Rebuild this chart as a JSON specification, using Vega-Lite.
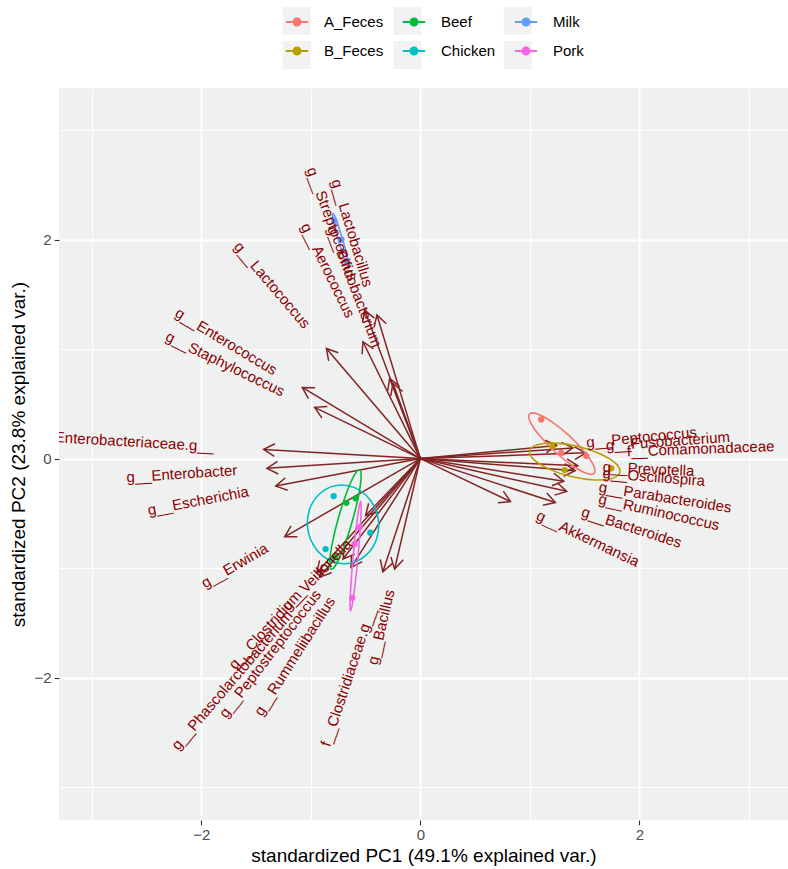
{
  "$schema": "https://vega.github.io/schema/vega-lite/v6.json",
  "width": 729,
  "height": 732,
  "autosize": {"type": "none"},
  "padding": {"left": 59, "top": 88, "right": 0, "bottom": 49},
  "background": "white",
  "config": {
    "view": {"fill": "#EFF0F0", "stroke": null},
    "font": "Liberation Sans",
    "axis": {
      "domain": false,
      "gridColor": "white",
      "tickColor": "#333333",
      "tickSize": 4.8,
      "tickWidth": 1.1,
      "labelColor": "#4D4D4D",
      "labelFontSize": 15,
      "labelFont": "Liberation Sans",
      "labelPadding": 3,
      "labelOverlap": false,
      "labelFlush": false,
      "titleFontSize": 19,
      "titleFontWeight": "normal",
      "titleColor": "black",
      "titleFont": "Liberation Sans",
      "titlePadding": 4
    },
    "axisY": {"titlePadding": 6}
  },
  "datasets": {
    "arrows": [
      {"label": "g__Streptococcus", "x0": 0, "y0": 0, "x": -0.509, "y": 1.356, "lx": -0.612, "ly": 1.629},
      {"label": "g__Lactobacillus", "x0": 0, "y0": 0, "x": -0.396, "y": 1.311, "lx": -0.475, "ly": 1.572},
      {"label": "g__Aerococcus", "x0": 0, "y0": 0, "x": -0.524, "y": 1.067, "lx": -0.636, "ly": 1.295},
      {"label": "g__Bifidobacterium", "x0": 0, "y0": 0, "x": -0.280, "y": 0.732, "lx": -0.391, "ly": 1.023},
      {"label": "", "x0": 0, "y0": 0, "x": -0.250, "y": 0.687, "lx": -0.250, "ly": 0.687},
      {"label": "g__Lactococcus", "x0": 0, "y0": 0, "x": -0.858, "y": 1.006, "lx": -1.031, "ly": 1.208},
      {"label": "g__Enterococcus", "x0": 0, "y0": 0, "x": -1.078, "y": 0.650, "lx": -1.320, "ly": 0.796},
      {"label": "g__Staphylococcus", "x0": 0, "y0": 0, "x": -0.965, "y": 0.468, "lx": -1.248, "ly": 0.606},
      {"label": "f__Enterobacteriaceae.g__", "x0": 0, "y0": 0, "x": -1.431, "y": 0.084, "lx": -1.885, "ly": 0.111},
      {"label": "g__Enterobacter", "x0": 0, "y0": 0, "x": -1.401, "y": -0.089, "lx": -1.673, "ly": -0.106},
      {"label": "g__Escherichia", "x0": 0, "y0": 0, "x": -1.321, "y": -0.251, "lx": -1.569, "ly": -0.298},
      {"label": "g__Erwinia", "x0": 0, "y0": 0, "x": -1.239, "y": -0.714, "lx": -1.402, "ly": -0.808},
      {"label": "g__Veillonella", "x0": 0, "y0": 0, "x": -0.500, "y": -0.520, "lx": -0.652, "ly": -0.758},
      {"label": "g__Clostridium", "x0": 0, "y0": 0, "x": -0.945, "y": -1.042, "lx": -1.111, "ly": -1.225},
      {"label": "g__Phascolarctobacterium", "x0": 0, "y0": 0, "x": -0.920, "y": -1.082, "lx": -1.195, "ly": -1.405},
      {"label": "g__Peptostreptococcus", "x0": 0, "y0": 0, "x": -0.706, "y": -0.917, "lx": -0.935, "ly": -1.215},
      {"label": "g__Rummeliibacillus", "x0": 0, "y0": 0, "x": -0.633, "y": -0.995, "lx": -0.811, "ly": -1.275},
      {"label": "f__Clostridiaceae.g__", "x0": 0, "y0": 0, "x": -0.342, "y": -1.034, "lx": -0.452, "ly": -1.366},
      {"label": "g__Bacillus", "x0": 0, "y0": 0, "x": -0.235, "y": -1.009, "lx": -0.279, "ly": -1.197},
      {"label": "g__Peptococcus", "x0": 0, "y0": 0, "x": 1.245, "y": 0.120, "lx": 1.516, "ly": 0.146},
      {"label": "g__Fusobacterium", "x0": 0, "y0": 0, "x": 1.394, "y": 0.0975, "lx": 1.695, "ly": 0.119},
      {"label": "f__Comamonadaceae", "x0": 0, "y0": 0, "x": 1.510, "y": 0.053, "lx": 1.887, "ly": 0.066},
      {"label": "g__Prevotella", "x0": 0, "y0": 0, "x": 1.438, "y": -0.0653, "lx": 1.666, "ly": -0.076},
      {"label": "g__Oscillospira", "x0": 0, "y0": 0, "x": 1.414, "y": -0.111, "lx": 1.665, "ly": -0.131},
      {"label": "g__Parabacteroides", "x0": 0, "y0": 0, "x": 1.310, "y": -0.207, "lx": 1.631, "ly": -0.258},
      {"label": "g__Ruminococcus", "x0": 0, "y0": 0, "x": 1.337, "y": -0.299, "lx": 1.630, "ly": -0.365},
      {"label": "g__Bacteroides", "x0": 0, "y0": 0, "x": 1.233, "y": -0.401, "lx": 1.477, "ly": -0.480},
      {"label": "g__Akkermansia", "x0": 0, "y0": 0, "x": 0.824, "y": -0.393, "lx": 1.070, "ly": -0.511}
    ],
    "samples": [
      {"group": "A_Feces", "x": 1.104, "y": 0.357},
      {"group": "A_Feces", "x": 1.287, "y": 0.053},
      {"group": "A_Feces", "x": 1.516, "y": 0.023},
      {"group": "B_Feces", "x": 1.205, "y": 0.108},
      {"group": "B_Feces", "x": 1.318, "y": -0.105},
      {"group": "B_Feces", "x": 1.744, "y": -0.089},
      {"group": "Beef", "x": -0.676, "y": -0.404},
      {"group": "Beef", "x": -0.591, "y": -0.363},
      {"group": "Beef", "x": -0.78, "y": -0.90},
      {"group": "Chicken", "x": -0.792, "y": -0.342},
      {"group": "Chicken", "x": -0.457, "y": -0.676},
      {"group": "Chicken", "x": -0.865, "y": -0.826},
      {"group": "Milk", "x": -0.785, "y": 2.17},
      {"group": "Milk", "x": -0.675, "y": 1.80},
      {"group": "Milk", "x": -0.72, "y": 2.0},
      {"group": "Pork", "x": -0.554, "y": -0.626},
      {"group": "Pork", "x": -0.60, "y": -0.78},
      {"group": "Pork", "x": -0.621, "y": -1.271}
    ],
    "ellipses": [
      {"group": "A_Feces", "i": 0, "x": 1.589, "y": -0.134},
      {"group": "A_Feces", "i": 1, "x": 1.582, "y": -0.062},
      {"group": "A_Feces", "i": 2, "x": 1.498, "y": 0.063},
      {"group": "A_Feces", "i": 3, "x": 1.359, "y": 0.209},
      {"group": "A_Feces", "i": 4, "x": 1.202, "y": 0.335},
      {"group": "A_Feces", "i": 5, "x": 1.070, "y": 0.408},
      {"group": "A_Feces", "i": 6, "x": 0.998, "y": 0.408},
      {"group": "A_Feces", "i": 7, "x": 1.004, "y": 0.336},
      {"group": "A_Feces", "i": 8, "x": 1.088, "y": 0.211},
      {"group": "A_Feces", "i": 9, "x": 1.227, "y": 0.065},
      {"group": "A_Feces", "i": 10, "x": 1.384, "y": -0.061},
      {"group": "A_Feces", "i": 11, "x": 1.516, "y": -0.134},
      {"group": "B_Feces", "i": 0, "x": 1.822, "y": -0.126},
      {"group": "B_Feces", "i": 1, "x": 1.784, "y": -0.044},
      {"group": "B_Feces", "i": 2, "x": 1.644, "y": 0.042},
      {"group": "B_Feces", "i": 3, "x": 1.443, "y": 0.110},
      {"group": "B_Feces", "i": 4, "x": 1.232, "y": 0.141},
      {"group": "B_Feces", "i": 5, "x": 1.070, "y": 0.127},
      {"group": "B_Feces", "i": 6, "x": 0.998, "y": 0.072},
      {"group": "B_Feces", "i": 7, "x": 1.037, "y": -0.010},
      {"group": "B_Feces", "i": 8, "x": 1.176, "y": -0.096},
      {"group": "B_Feces", "i": 9, "x": 1.377, "y": -0.164},
      {"group": "B_Feces", "i": 10, "x": 1.588, "y": -0.195},
      {"group": "B_Feces", "i": 11, "x": 1.750, "y": -0.181},
      {"group": "Chicken", "i": 0, "x": -0.768, "y": -0.245},
      {"group": "Chicken", "i": 1, "x": -0.919, "y": -0.321},
      {"group": "Chicken", "i": 2, "x": -1.014, "y": -0.471},
      {"group": "Chicken", "i": 3, "x": -1.026, "y": -0.656},
      {"group": "Chicken", "i": 4, "x": -0.952, "y": -0.825},
      {"group": "Chicken", "i": 5, "x": -0.813, "y": -0.935},
      {"group": "Chicken", "i": 6, "x": -0.644, "y": -0.955},
      {"group": "Chicken", "i": 7, "x": -0.493, "y": -0.879},
      {"group": "Chicken", "i": 8, "x": -0.398, "y": -0.729},
      {"group": "Chicken", "i": 9, "x": -0.386, "y": -0.544},
      {"group": "Chicken", "i": 10, "x": -0.460, "y": -0.375},
      {"group": "Chicken", "i": 11, "x": -0.599, "y": -0.265},
      {"group": "Beef", "i": 0, "x": -0.555, "y": -0.102},
      {"group": "Beef", "i": 1, "x": -0.604, "y": -0.154},
      {"group": "Beef", "i": 2, "x": -0.674, "y": -0.314},
      {"group": "Beef", "i": 3, "x": -0.747, "y": -0.538},
      {"group": "Beef", "i": 4, "x": -0.803, "y": -0.768},
      {"group": "Beef", "i": 5, "x": -0.827, "y": -0.940},
      {"group": "Beef", "i": 6, "x": -0.813, "y": -1.010},
      {"group": "Beef", "i": 7, "x": -0.764, "y": -0.958},
      {"group": "Beef", "i": 8, "x": -0.694, "y": -0.798},
      {"group": "Beef", "i": 9, "x": -0.622, "y": -0.574},
      {"group": "Beef", "i": 10, "x": -0.565, "y": -0.344},
      {"group": "Beef", "i": 11, "x": -0.541, "y": -0.172},
      {"group": "Pork", "i": 0, "x": -0.545, "y": -0.391},
      {"group": "Pork", "i": 1, "x": -0.562, "y": -0.457},
      {"group": "Pork", "i": 2, "x": -0.587, "y": -0.639},
      {"group": "Pork", "i": 3, "x": -0.613, "y": -0.889},
      {"group": "Pork", "i": 4, "x": -0.633, "y": -1.139},
      {"group": "Pork", "i": 5, "x": -0.642, "y": -1.323},
      {"group": "Pork", "i": 6, "x": -0.637, "y": -1.391},
      {"group": "Pork", "i": 7, "x": -0.620, "y": -1.325},
      {"group": "Pork", "i": 8, "x": -0.595, "y": -1.143},
      {"group": "Pork", "i": 9, "x": -0.569, "y": -0.893},
      {"group": "Pork", "i": 10, "x": -0.549, "y": -0.643},
      {"group": "Pork", "i": 11, "x": -0.540, "y": -0.459},
      {"group": "Milk", "i": 0, "x": -0.800, "y": 2.240},
      {"group": "Milk", "i": 1, "x": -0.800, "y": 2.203},
      {"group": "Milk", "i": 2, "x": -0.780, "y": 2.110},
      {"group": "Milk", "i": 3, "x": -0.746, "y": 1.984},
      {"group": "Milk", "i": 4, "x": -0.707, "y": 1.860},
      {"group": "Milk", "i": 5, "x": -0.674, "y": 1.771},
      {"group": "Milk", "i": 6, "x": -0.654, "y": 1.740},
      {"group": "Milk", "i": 7, "x": -0.654, "y": 1.777},
      {"group": "Milk", "i": 8, "x": -0.674, "y": 1.870},
      {"group": "Milk", "i": 9, "x": -0.708, "y": 1.996},
      {"group": "Milk", "i": 10, "x": -0.747, "y": 2.120},
      {"group": "Milk", "i": 11, "x": -0.780, "y": 2.209}
    ]
  },
  "layer": [
    {
      "data": {"name": "arrows"},
      "mark": {"type": "rule", "color": "#832424", "strokeWidth": 1.5},
      "encoding": {
        "x": {"field": "x0", "type": "quantitative"},
        "y": {"field": "y0", "type": "quantitative"},
        "x2": {"field": "x"},
        "y2": {"field": "y"}
      }
    },
    {
      "data": {"name": "arrows"},
      "transform": [{"calculate": "-atan2(datum.y, datum.x) * 180 / PI", "as": "aang"}],
      "mark": {"type": "point", "shape": "M-1,-0.577L0,0L-1,0.577", "filled": false, "stroke": "#832424", "strokeWidth": 1.5, "size": 484, "opacity": 1},
      "encoding": {
        "x": {"field": "x", "type": "quantitative"},
        "y": {"field": "y", "type": "quantitative"},
        "angle": {"field": "aang", "type": "quantitative", "scale": null}
      }
    },
    {
      "data": {"name": "samples"},
      "mark": {"type": "point", "filled": true, "size": 40, "opacity": 1},
      "encoding": {
        "x": {
          "field": "x", "type": "quantitative",
          "scale": {"domain": [-3.30, 3.358], "nice": false, "zero": false},
          "axis": {
            "title": "standardized PC1 (49.1% explained var.)",
            "values": [-3, -2, -1, 0, 1, 2, 3],
            "format": "d",
            "labelExpr": "datum.value % 2 === 0 ? datum.label : ''",
            "gridWidth": {"condition": {"test": "datum.value % 2 === 0", "value": 1.8}, "value": 0.9},
            "tickOpacity": {"condition": {"test": "datum.value % 2 === 0", "value": 1}, "value": 0}
          }
        },
        "y": {
          "field": "y", "type": "quantitative",
          "scale": {"domain": [-3.30, 3.384], "nice": false, "zero": false},
          "axis": {
            "title": "standardized PC2 (23.8% explained var.)",
            "values": [-3, -2, -1, 0, 1, 2, 3],
            "format": "d",
            "labelExpr": "datum.value % 2 === 0 ? datum.label : ''",
            "gridWidth": {"condition": {"test": "datum.value % 2 === 0", "value": 1.8}, "value": 0.9},
            "tickOpacity": {"condition": {"test": "datum.value % 2 === 0", "value": 1}, "value": 0}
          }
        },
        "color": {
          "field": "group", "type": "nominal",
          "scale": {
            "domain": ["A_Feces", "B_Feces", "Beef", "Chicken", "Milk", "Pork"],
            "range": ["#F8766D", "#B79F00", "#00BA38", "#00BFC4", "#619CFF", "#F564E3"]
          },
          "legend": {
            "title": null,
            "orient": "none",
            "legendX": 223,
            "legendY": -81,
            "columns": 3,
            "zindex": 2,
            "symbolType": "M-0.8,0L0.8,0M0.25,0A0.25,0.25,0,1,1,-0.25,0A0.25,0.25,0,1,1,0.25,0Z",
            "symbolSize": 784,
            "symbolStrokeWidth": 2,
            "labelFontSize": 15,
            "labelColor": "black",
            "labelFont": "Liberation Sans",
            "labelOffset": 12,
            "columnPadding": 14,
            "rowPadding": 6,
            "encode": {
              "symbols": {
                "update": {
                  "fill": {"scale": "color", "field": "value"},
                  "stroke": {"scale": "color", "field": "value"},
                  "opacity": {"value": 1},
                  "fillOpacity": {"value": 1}
                }
              }
            }
          }
        }
      }
    },
    {
      "data": {"name": "ellipses"},
      "mark": {"type": "line", "interpolate": "cardinal-closed", "strokeWidth": 1.6},
      "encoding": {
        "x": {"field": "x", "type": "quantitative"},
        "y": {"field": "y", "type": "quantitative"},
        "color": {"field": "group", "type": "nominal"},
        "order": {"field": "i", "type": "quantitative"}
      }
    },
    {
      "data": {"name": "arrows"},
      "transform": [
        {"filter": "datum.x < 0 && datum.label != ''"},
        {"calculate": "-atan(datum.y / datum.x) * 180 / PI", "as": "tang"}
      ],
      "mark": {"type": "text", "align": "right", "baseline": "middle", "color": "#8B0000", "fontSize": 15, "font": "Liberation Sans", "clip": true},
      "encoding": {
        "x": {"field": "lx", "type": "quantitative"},
        "y": {"field": "ly", "type": "quantitative"},
        "text": {"field": "label"},
        "angle": {"field": "tang", "type": "quantitative", "scale": null}
      }
    },
    {
      "data": {"name": "arrows"},
      "transform": [
        {"filter": "datum.x > 0"},
        {"calculate": "-atan(datum.y / datum.x) * 180 / PI", "as": "tang"}
      ],
      "mark": {"type": "text", "align": "left", "baseline": "middle", "color": "#8B0000", "fontSize": 15, "font": "Liberation Sans", "clip": true},
      "encoding": {
        "x": {"field": "lx", "type": "quantitative"},
        "y": {"field": "ly", "type": "quantitative"},
        "text": {"field": "label"},
        "angle": {"field": "tang", "type": "quantitative", "scale": null}
      }
    },
    {
      "data": {"name": "samples"},
      "transform": [{"calculate": "datum.group", "as": "key"}],
      "mark": {"type": "point", "opacity": 0, "filled": true, "color": "#F2F2F2"},
      "encoding": {
        "x": {"field": "x", "type": "quantitative"},
        "y": {"field": "y", "type": "quantitative"},
        "shape": {
          "field": "key", "type": "nominal",
          "scale": {"range": ["square", "square", "square", "square", "square", "square"]},
          "legend": {
            "title": null,
            "orient": "none",
            "legendX": 223.8,
            "legendY": -81,
            "columns": 3,
            "zindex": 1,
            "symbolSize": 784,
            "symbolFillColor": "#F2F2F2",
            "symbolStrokeColor": "#F2F2F2",
            "symbolStrokeWidth": 0,
            "symbolOpacity": 1,
            "labelFontSize": 15,
            "labelFont": "Liberation Sans",
            "labelExpr": "''",
            "labelOffset": 0,
            "columnPadding": 82.5,
            "rowPadding": 6,
            "encode": {
              "symbols": {
                "update": {
                  "fill": {"value": "#F2F2F2"},
                  "stroke": {"value": "#F2F2F2"},
                  "opacity": {"value": 1},
                  "fillOpacity": {"value": 1}
                }
              }
            }
          }
        }
      }
    }
  ]
}
